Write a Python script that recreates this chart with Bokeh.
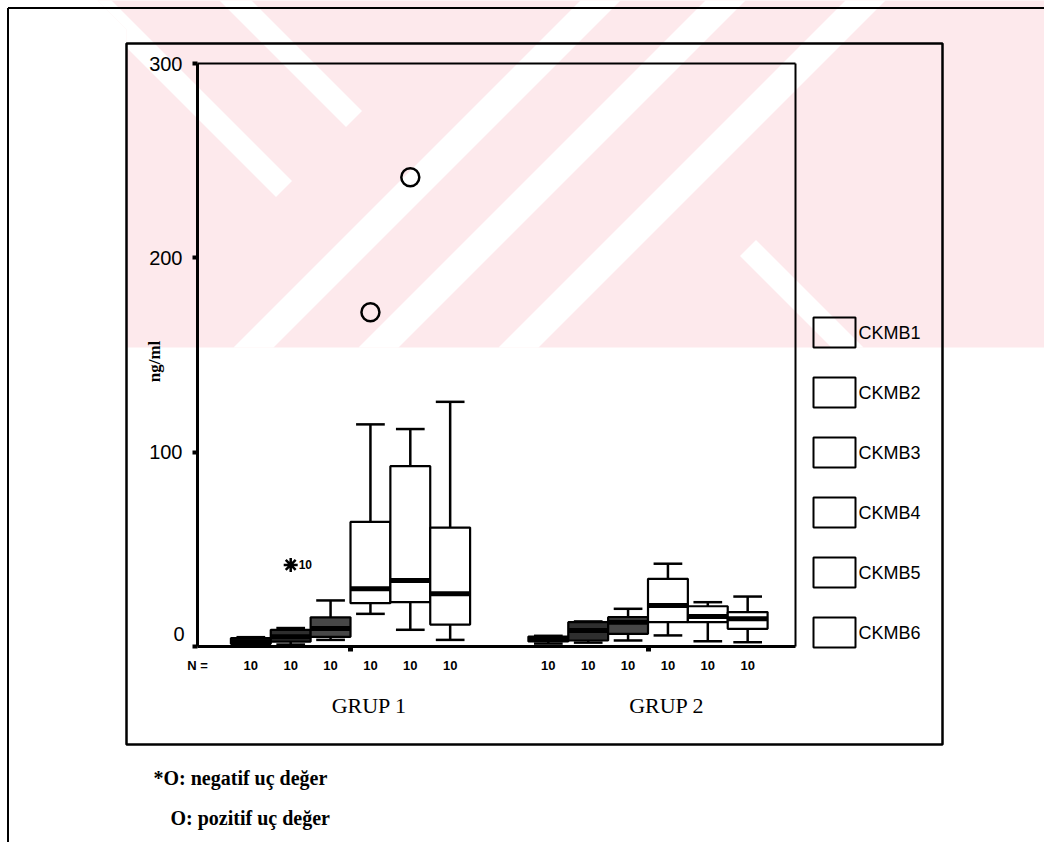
import math
from bokeh.plotting import figure
from bokeh.models import Range1d, FixedTicker
from bokeh.core.properties import value
from bokeh.embed import file_html
from bokeh.resources import INLINE

# ---------------- data ----------------
groups = ["GRUP 1", "GRUP 2"]
series = ["CKMB1", "CKMB2", "CKMB3", "CKMB4", "CKMB5", "CKMB6"]
n_counts = [[10, 10, 10, 10, 10, 10], [10, 10, 10, 10, 10, 10]]

g1_whisker_low = [0.5, 1.0, 3.4, 16.8, 8.6, 3.4]
g1_q1 = [1.4, 2.5, 5.0, 22.3, 22.8, 11.3]
g1_median = [2.5, 5.0, 9.3, 29.7, 34.0, 27.1]
g1_q3 = [4.3, 8.6, 15.0, 64.1, 92.8, 61.2]
g1_whisker_high = [4.8, 9.5, 23.7, 114.3, 111.9, 125.9]

g2_whisker_low = [1.5, 2.0, 3.1, 5.7, 2.7, 2.2]
g2_q1 = [2.6, 3.1, 6.5, 12.5, 12.5, 9.1]
g2_median = [3.8, 8.2, 12.5, 21.1, 15.4, 14.3]
g2_q3 = [5.1, 12.5, 15.1, 34.8, 20.7, 17.7]
g2_whisker_high = [5.5, 12.9, 19.4, 42.6, 22.8, 25.7]

outlier_group = ["GRUP 1", "GRUP 1"]
outlier_series = ["CKMB4", "CKMB5"]
outlier_value = [172.0, 241.5]

extreme_group = ["GRUP 1"]
extreme_series = ["CKMB2"]
extreme_value = [42.0]
extreme_case = ["10"]

y_ticks = [0, 100, 200, 300]
footnotes = ["*O: negatif uç değer", "O: pozitif uç değer"]
y_label = "ng/ml"

# ---------------- layout helpers (page pixels -> data) ----------------
FRAME_L, FRAME_T, FRAME_W, FRAME_H = 197, 63, 598, 583
X_MAX, Y_MAX = 15.0, 300.0
W, H = 1044, 842


def X(px):
    return (px - FRAME_L) / FRAME_W * X_MAX


def Y(py):
    return (FRAME_T + FRAME_H - py) / FRAME_H * Y_MAX


group_center = {"GRUP 1": X(350), "GRUP 2": X(647.5)}


def xpos(g, s):
    return group_center[g] + (series.index(s) - 2.5) * 1.0


fills = {"CKMB1": "#161616", "CKMB2": "#2e2e2e", "CKMB3": "#474747",
         "CKMB4": "white", "CKMB5": "white", "CKMB6": "white"}

p = figure(frame_width=FRAME_W, frame_height=FRAME_H,
           x_range=Range1d(0, X_MAX), y_range=Range1d(0, Y_MAX),
           output_backend="svg", toolbar_location=None,
           min_border_left=FRAME_L, min_border_top=FRAME_T,
           min_border_right=W - FRAME_L - FRAME_W,
           min_border_bottom=H - FRAME_T - FRAME_H)
p.xgrid.visible = False
p.ygrid.visible = False
p.outline_line_color = None
p.background_fill_color = "white"
p.border_fill_color = "white"

# ---------------- faint background watermark of the scanned page ----------------
PINK = "#fde9ec"


def clip(poly, a, b, c):
    """keep the part of poly where a*x + b*y <= c"""
    out = []
    n = len(poly)
    for i in range(n):
        P, Q = poly[i], poly[(i + 1) % n]
        fp = a * P[0] + b * P[1] - c
        fq = a * Q[0] + b * Q[1] - c
        if fp <= 0:
            out.append(P)
        if fp * fq < 0:
            t = fp / (fp - fq)
            out.append((P[0] + t * (Q[0] - P[0]), P[1] + t * (Q[1] - P[1])))
    return out


extent = [(97, 0), (1060, 0), (1060, 347), (126, 347), (126, 29)]
white_polys = []
for c in [95, 235]:                      # "\" stripes, left part
    poly = clip(extent, 1, -1, c + 16)
    poly = clip(poly, -1, 1, -(c - 16))
    poly = clip(poly, 1, 1, 472)
    white_polys.append(poly)
for c in [600, 725, 865]:                # "/" stripes, middle band
    poly = clip(extent, 1, 1, c + 20)
    poly = clip(poly, -1, -1, -(c - 20))
    white_polys.append(poly)
for c in [500, 640, 760, 880, 1000]:     # "\" stripes, right part
    poly = clip(extent, 1, -1, c + 16)
    poly = clip(poly, -1, 1, -(c - 16))
    poly = clip(poly, -1, -1, -995)
    white_polys.append(poly)
white_polys = [q for q in white_polys if len(q) >= 3]

p.patches(xs=[[X(v[0]) for v in extent]], ys=[[Y(v[1]) for v in extent]],
          fill_color=PINK, line_color=None, level="guide")
p.patches(xs=[[X(v[0]) for v in q] for q in white_polys],
          ys=[[Y(v[1]) for v in q] for q in white_polys],
          fill_color="white", line_color=None, level="guide")

# ---------------- boxes ----------------
stats = {
    "GRUP 1": (g1_whisker_low, g1_q1, g1_median, g1_q3, g1_whisker_high),
    "GRUP 2": (g2_whisker_low, g2_q1, g2_median, g2_q3, g2_whisker_high),
}
BW = 1.0
CAP = 0.36
for g in groups:
    wl, q1, med, q3, wh = stats[g]
    xs = [xpos(g, s) for s in series]
    p.segment(x0=xs, y0=q3, x1=xs, y1=wh, line_color="black", line_width=2.5, level="annotation")
    p.segment(x0=xs, y0=q1, x1=xs, y1=wl, line_color="black", line_width=2.5, level="annotation")
    p.segment(x0=[x - CAP for x in xs], y0=wh, x1=[x + CAP for x in xs], y1=wh,
              line_color="black", line_width=2.5, level="annotation")
    p.segment(x0=[x - CAP for x in xs], y0=wl, x1=[x + CAP for x in xs], y1=wl,
              line_color="black", line_width=2.5, level="annotation")
    p.quad(left=[x - BW / 2 for x in xs], right=[x + BW / 2 for x in xs], bottom=q1, top=q3,
           fill_color=[fills[s] for s in series], line_color="black", line_width=2.2,
           level="annotation")
    p.segment(x0=[x - BW / 2 for x in xs], y0=med, x1=[x + BW / 2 for x in xs], y1=med,
              line_color="black", line_width=5, level="annotation")

# outliers and extreme value
p.scatter(x=[xpos(g, s) for g, s in zip(outlier_group, outlier_series)], y=outlier_value,
          marker="circle", size=18, fill_color=None, line_color="black", line_width=2.5,
          level="annotation")
ex_x = [xpos(g, s) for g, s in zip(extreme_group, extreme_series)]
p.scatter(x=ex_x, y=extreme_value, marker="asterisk", size=14, line_color="black",
          line_width=2.5, level="annotation")
p.text(x=[x + 0.2 for x in ex_x], y=extreme_value, text=extreme_case,
       text_font=value("Liberation Sans"), text_font_style="bold", text_font_size="12px",
       text_baseline="middle", text_align="left", level="annotation")

# ---------------- axes ----------------
yax = p.yaxis[0]
yax.ticker = FixedTicker(ticks=y_ticks)
yax.major_label_overrides = {0: ""}
yax.axis_line_width = 3
yax.major_tick_out = 5
yax.major_tick_in = 0
yax.major_tick_line_width = 4
yax.minor_tick_out = 0
yax.minor_tick_in = 0
yax.major_label_standoff = 10
yax.major_label_text_font = "Liberation Sans"
yax.major_label_text_font_size = "20px"
yax.major_label_text_color = "black"
yax.level = "overlay"

box_x = [xpos(g, s) for g in groups for s in series]
n_labels = [str(n) for row in n_counts for n in row]
xax = p.xaxis[0]
xax.ticker = FixedTicker(ticks=[0.0] + box_x, minor_ticks=[group_center[g] for g in groups])
overrides = {0.0: "N ="}
for xv, lab in zip(box_x, n_labels):
    overrides[xv] = lab
xax.major_label_overrides = overrides
xax.axis_line_width = 3
xax.major_tick_out = 0
xax.major_tick_in = 0
xax.minor_tick_out = 5
xax.minor_tick_in = 0
xax.minor_tick_line_width = 5
xax.major_label_standoff = 6
xax.major_label_text_font = "Liberation Sans"
xax.major_label_text_font_style = "bold"
xax.major_label_text_font_size = "13px"
xax.major_label_text_color = "black"
xax.level = "overlay"

# "0" label (sits a little above its tick in the source)
p.text(x=[X(184)], y=[Y(633)], text=["0"], text_font=value("Liberation Sans"),
       text_font_size="20px", text_align="right", text_baseline="middle", level="overlay")

# y label
p.text(x=[X(154)], y=[Y(361)], text=[y_label], angle=math.pi / 2,
       text_font=value("Liberation Serif"), text_font_size="17px", text_font_style="bold",
       text_align="center", text_baseline="middle", level="overlay")

# group labels
p.text(x=[group_center[g] + 0.47 for g in groups], y=[Y(705)] * 2, text=groups,
       text_font=value("Liberation Serif"), text_font_size="22px",
       text_align="center", text_baseline="alphabetic", level="overlay")

# footnotes
p.text(x=[X(153), X(170)], y=[Y(777), Y(817)], text=footnotes,
       text_font=value("Liberation Serif"), text_font_size="20px", text_font_style="bold",
       text_align="left", text_baseline="alphabetic", level="overlay")

# ---------------- legend (drawn beside the plot frame) ----------------
leg_y = [Y(332 + 60 * i) for i in range(len(series))]
p.rect(x=[X(834)] * len(series), y=leg_y, width=42, height=30, width_units="screen",
       height_units="screen", fill_color=None, line_color="black", line_width=2,
       level="annotation")
p.text(x=[X(858)] * len(series), y=leg_y, text=series, text_font=value("Liberation Sans"),
       text_font_size="18px", text_align="left", text_baseline="middle", level="annotation")

# ---------------- frames ----------------
p.segment(x0=[0, X_MAX], y0=[Y_MAX, 0], x1=[X_MAX, X_MAX], y1=[Y_MAX, Y_MAX],
          line_color="black", line_width=2, level="overlay")
p.quad(left=[X(126)], right=[X(942)], top=[Y(43)], bottom=[Y(744)], fill_color=None,
       line_color="black", line_width=2.5, level="overlay")
p.segment(x0=[X(7.5), X(7.5)], y0=[Y(7.5), Y(7.5)], x1=[X(7.5), X(1060)], y1=[Y(860), Y(7.5)],
          line_color="black", line_width=2, level="overlay")

open("out.html", "w").write(file_html(p, INLINE))
